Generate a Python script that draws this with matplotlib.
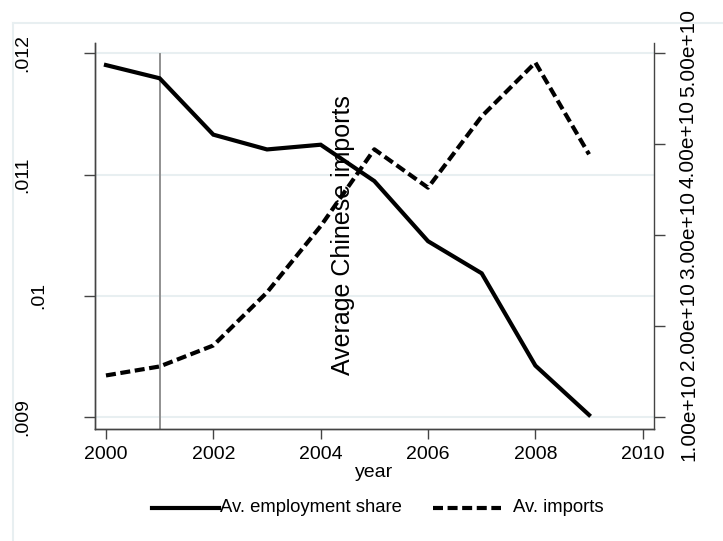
import matplotlib
matplotlib.use("Agg")
import matplotlib.pyplot as plt
import matplotlib.transforms as mtransforms
from matplotlib.lines import Line2D

plt.rcParams['font.family'] = ['Liberation Sans', 'DejaVu Sans']

# data
years = [2000, 2001, 2002, 2003, 2004, 2005, 2006, 2007, 2008, 2009]
emp_share = [0.011903, 0.011794, 0.011329, 0.011207, 0.011246,
             0.010946, 0.010450, 0.010185, 0.009424, 0.009017]
imports = [1.454e10, 1.553e10, 1.784e10, 2.368e10, 3.098e10,
           3.943e10, 3.521e10, 4.306e10, 4.898e10, 3.888e10]

left_ticks = [0.009, 0.010, 0.011, 0.012]
left_labels = ['.009', '.01', '.011', '.012']
right_ticks = [1e10, 2e10, 3e10, 4e10, 5e10]
right_labels = ['1.00e+10', '2.00e+10', '3.00e+10', '4.00e+10', '5.00e+10']
x_ticks = [2000, 2002, 2004, 2006, 2008, 2010]
legend_labels = ['Av. employment share', 'Av. imports']

W, H = 723, 541
fig = plt.figure(figsize=(W / 100, H / 100), dpi=100)
ax = fig.add_axes([94.7 / W, 1 - 429 / H, (654 - 94.7) / W, (429 - 42.7) / H])
ax2 = ax.twinx()

grid_col = '#e8eff1'
tick_col = '#444444'
dash = (2.4, 1.1)

# outer light frame (Stata plot region)
fig.add_artist(Line2D([13 / W, 1.0], [1 - 23 / H, 1 - 23 / H], color=grid_col, lw=1.5,
                      transform=fig.transFigure))
fig.add_artist(Line2D([13 / W, 13 / W], [0.0, 1 - 23 / H], color=grid_col, lw=1.5,
                      transform=fig.transFigure))

ax.set_xlim(1999.79, 2010.21)
ax.set_ylim(0.0089010, 0.0120875)
ax2.set_ylim(0.8646e10, 5.1167e10)

for t in left_ticks:
    ax.axhline(t, color=grid_col, lw=1.5, zorder=0)

ax.axvline(2001, ymin=0, ymax=0.9707, color='#919191', lw=1.4, zorder=1)

ax.plot(years, emp_share, color='black', lw=3.0, solid_joinstyle='miter', zorder=3)
ax2.plot(years, imports, color='black', lw=3.0, dashes=dash,
         dash_capstyle='butt', zorder=3)

for a in (ax, ax2):
    a.spines['top'].set_visible(False)
    for s in a.spines.values():
        s.set_color(tick_col)
        s.set_linewidth(1.0)
ax.spines['right'].set_visible(False)

ax.set_xticks(x_ticks)
ax.set_xticklabels([str(x) for x in x_ticks])
ax.tick_params(axis='x', direction='out', length=7, width=1, color=tick_col,
               labelsize=14, pad=5)
ax.set_yticks(left_ticks)
ax.set_yticklabels([])
ax.tick_params(axis='y', direction='out', length=8, width=1, color=tick_col)
ax2.set_yticks(right_ticks)
ax2.set_yticklabels([])
ax2.tick_params(axis='y', direction='out', length=8, width=1, color=tick_col)

# rotated axis labels like Stata
left_x = [22.5, 38.5, 22.5, 22.5]
tl = mtransforms.blended_transform_factory(fig.transFigure, ax.transData)
for t, lab, px in zip(left_ticks, left_labels, left_x):
    ax.text(px / W, t, lab, transform=tl, rotation=90, ha='center', va='center', fontsize=14)
tr = mtransforms.blended_transform_factory(fig.transFigure, ax2.transData)
for t, lab in zip(right_ticks, right_labels):
    ax2.text(688.5 / W, t, lab, transform=tr, rotation=90, ha='center', va='center',
             fontsize=15)

ax.set_xlabel('year', fontsize=14, labelpad=1)

ax2.text(2004.42, 3.0e10, 'Average Chinese imports', rotation=90, ha='center',
         va='center', fontsize=18)

# legend below the plot, drawn by hand to match Stata spacing
ly = 1 - 508 / H
fig.add_artist(Line2D([152 / W, 219 / W], [ly, ly], color='black', lw=3.0,
                      transform=fig.transFigure))
fig.text(220 / W, ly, legend_labels[0], ha='left', va='center', fontsize=13.3)
fig.add_artist(Line2D([433 / W, 501 / W], [ly, ly], color='black', lw=3.0, dashes=dash,
                      dash_capstyle='butt', transform=fig.transFigure))
fig.text(513 / W, ly, legend_labels[1], ha='left', va='center', fontsize=13.3)

fig.savefig('out.png', dpi=100)
